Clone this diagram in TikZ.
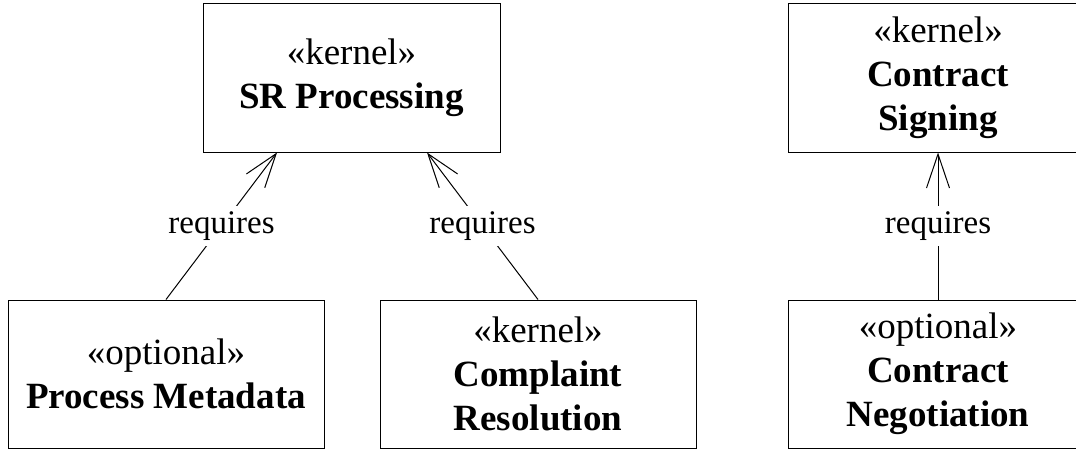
\documentclass[tikz,border=0pt]{standalone}
\usepackage{fontspec}
\setmainfont{Liberation Serif}
\usetikzlibrary{arrows.meta,calc}
\tikzset{
  umlbox/.style={draw=black, line width=1pt, rectangle, align=center, inner sep=0pt,
    font=\fontsize{37}{44}\selectfont},
  reqedge/.style={draw=black, line width=1pt, -{Straight Barb[length=34pt,width=23pt,line width=1pt]}},
  reqlabel/.style={fill=white, inner sep=6pt, font=\fontsize{33}{40}\selectfont},
}
\begin{document}
\begin{tikzpicture}[x=1pt,y=-1pt]
\clip (0,0) rectangle (1076,450);
\fill[white] (0,0) rectangle (1076,450);
\node[umlbox, minimum width=297pt, minimum height=149pt] (sr) at (351.5,77.5)
  {«kernel»\\\textbf{SR Processing}};
\node[umlbox, minimum width=316pt, minimum height=148pt] (pm) at (166,374)
  {«optional»\\\textbf{Process Metadata}};
\node[umlbox, minimum width=316pt, minimum height=148pt] (cr) at (538,374)
  {«kernel»\\\textbf{Complaint}\\\textbf{Resolution}};
\node[umlbox, minimum width=300pt, minimum height=149pt] (cs) at (938,77.5)
  {«kernel»\\\textbf{Contract}\\\textbf{Signing}};
\node[umlbox, minimum width=300pt, minimum height=148pt] (cn) at (938,374)
  {«optional»\\\textbf{Contract}\\\textbf{Negotiation}};
\coordinate (srL) at ($(sr.south)+(-74.5,0)$);
\coordinate (srR) at ($(sr.south)+(75.5,0)$);
\draw[reqedge] (pm.north) -- node[reqlabel] (l1) {requires} (srL);
\draw[reqedge] (cr.north) -- node[reqlabel] (l2) {requires} (srR);
\draw[reqedge] (cn.north) -- node[reqlabel] (l3) {requires} (cs.south);
\end{tikzpicture}
\end{document}
